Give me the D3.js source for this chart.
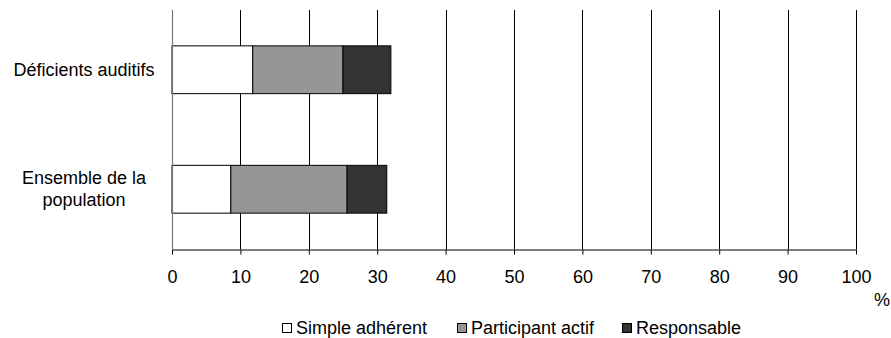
<!DOCTYPE html>
<html><head><meta charset="utf-8">
<script src="https://cdn.jsdelivr.net/npm/d3@7"></script>
<style>body{margin:0;background:#fff}svg{display:block}text{font-family:"Liberation Sans",Arial,sans-serif;fill:#000}</style>
</head><body><svg id="c" width="891" height="338"></svg>
<script>
const categories = ["Déficients auditifs", "Ensemble de la population"];
const categoryLines = [["Déficients auditifs"], ["Ensemble de la", "population"]];
const seriesNames = ["Simple adhérent", "Participant actif", "Responsable"];
const simpleAdherent = [11.8, 8.6];
const participantActif = [13.2, 17.0];
const responsable = [7.0, 5.8];
const xTicks = [0,10,20,30,40,50,60,70,80,90,100];
const colors = ["#ffffff", "#969696", "#333333"];

const FS = "18px";
const svg = d3.select("#c");
const m = {l:172, r:856, t:10, b:249};
const x = d3.scaleLinear().domain([0,100]).range([m.l, m.r]);
const y = d3.scaleBand().domain(categories).range([m.t, m.b]).paddingInner(0.6).paddingOuter(0.3);

// gridlines
svg.append("g").selectAll("line").data(xTicks.slice(1)).join("line")
  .attr("x1", d=>Math.round(x(d))+0.5).attr("x2", d=>Math.round(x(d))+0.5)
  .attr("y1", m.t).attr("y2", m.b).attr("stroke", "#000").attr("stroke-width", 1);

const rows = categories.map((c,i)=>({cat:c, "Simple adhérent":simpleAdherent[i], "Participant actif":participantActif[i], "Responsable":responsable[i]}));
const stacked = d3.stack().keys(seriesNames)(rows);
svg.append("g").selectAll("g").data(stacked).join("g")
  .attr("fill", (d,i)=>colors[i])
  .selectAll("rect").data(d=>d).join("rect")
  .attr("x", d=>x(d[0])).attr("width", d=>x(d[1])-x(d[0]))
  .attr("y", d=>y(d.data.cat)).attr("height", y.bandwidth())
  .attr("stroke", "#000").attr("stroke-width", 1);

// y axis line
svg.append("line").attr("x1", m.l+0.5).attr("x2", m.l+0.5).attr("y1", m.t).attr("y2", m.b)
  .attr("stroke", "#777").attr("stroke-width", 1.2);

// x axis
const xAxis = d3.axisBottom(x).tickValues(xTicks).tickSize(5).tickPadding(12).tickSizeOuter(0);
const gx = svg.append("g").attr("transform", `translate(0,${m.b+0.5})`).call(xAxis);
gx.select(".domain").attr("stroke", "#000");
gx.selectAll(".tick line").attr("stroke", "#000");
gx.selectAll("text").style("font-size", FS).attr("font-family", null).attr("dy", null).attr("y", 33);

svg.append("text").attr("x", 882).attr("y", 306).attr("text-anchor", "middle").style("font-size", FS).text("%");

// category labels
categories.forEach((c,i)=>{
  const lines = categoryLines[i];
  const cy = y(c) + y.bandwidth()/2;
  const lh = 22;
  const t = svg.append("text").attr("text-anchor", "middle").style("font-size", FS);
  lines.forEach((l,j)=>{
    t.append("tspan").attr("x", 84).attr("y", cy + (j - (lines.length-1)/2)*lh + 6).text(l);
  });
});

// legend
const legX = [282, 457, 622];
const lg = svg.append("g");
seriesNames.forEach((s,i)=>{
  lg.append("rect").attr("x", legX[i]+0.5).attr("y", 323.5).attr("width", 9).attr("height", 9)
    .attr("fill", colors[i]).attr("stroke", "#000").attr("stroke-width", 1);
  lg.append("text").attr("x", legX[i]+14).attr("y", 334).style("font-size", FS).text(s);
});
</script></body></html>
